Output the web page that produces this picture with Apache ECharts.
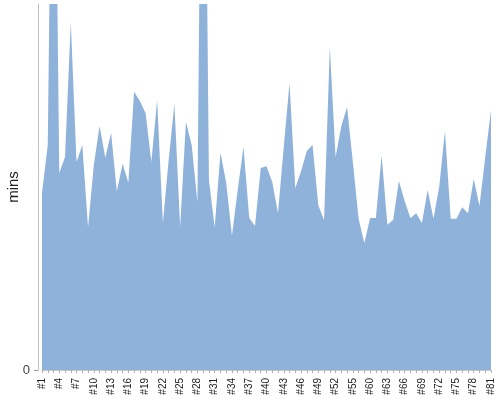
<!DOCTYPE html>
<html>
<head>
<meta charset="utf-8">
<script src="https://cdn.jsdelivr.net/npm/echarts@6/dist/echarts.min.js"></script>
<style>
html,body{margin:0;padding:0;background:#fff;}
#chart{width:500px;height:400px;}
</style>
</head>
<body>
<div id="chart"></div>
<script>
var categories = ['#1','#2','#3','#4','#5','#6','#7','#8','#9','#10','#11','#12','#13','#14','#15','#16','#17','#18','#19','#20',
  '#21','#22','#23','#24','#25','#26','#27','#28','#29','#30','#31','#32','#33','#34','#35','#36','#37','#38','#39','#40',
  '#41','#42','#43','#44','#45','#46','#47','#48','#49','#50','#51','#52','#53','#54','#55','#56','#58','#60','#61','#62',
  '#63','#64','#65','#66','#67','#68','#69','#70','#71','#72','#73','#74','#75','#76','#77','#78','#79','#80','#81'];
var minsValues = [29.0,36.9,118.0,32.3,34.9,57.0,34.1,36.9,23.4,33.6,40.0,34.8,38.9,29.3,33.8,30.7,45.6,44.1,42.1,34.1,
  44.3,24.1,34.4,43.6,23.4,40.7,36.9,27.5,129.7,31.1,23.4,35.6,30.7,22.0,29.5,36.6,24.9,23.6,33.1,33.4,
  30.8,25.7,36.6,47.0,29.8,32.6,35.9,36.9,27.0,24.6,53.0,34.9,40.0,43.1,34.1,24.8,20.8,24.9,24.9,35.2,
  23.8,24.6,31.0,27.7,24.9,25.7,24.1,29.5,24.8,30.0,39.2,24.8,24.8,26.7,25.7,31.3,26.9,34.9,42.6];
var yTickValues = [0];
var yMax = 60;

var chart = echarts.init(document.getElementById('chart'), null, {renderer: 'canvas'});
chart.setOption({
  animation: false,
  textStyle: {fontFamily: 'Liberation Sans, Arial, sans-serif'},
  grid: {left: 42, right: 9, top: 4, bottom: 30, containLabel: false, outerBoundsMode: 'none'},
  xAxis: {
    type: 'category',
    data: categories,
    boundaryGap: false,
    offset: 3,
    axisLine: {show: true, lineStyle: {color: '#c8c8c8', width: 1}},
    axisTick: {show: true, interval: 0, length: 3, lineStyle: {color: '#b0b0b0'}},
    axisLabel: {interval: 2, rotate: 90, fontSize: 10, color: '#222', margin: 5, fontFamily: 'Liberation Sans, Arial, sans-serif'},
    splitLine: {show: false}
  },
  yAxis: {
    type: 'value',
    min: 0,
    max: yMax,
    offset: 4,
    name: 'mins',
    nameLocation: 'middle',
    nameRotate: 90,
    nameGap: 17,
    nameMoveOverlap: false,
    nameTextStyle: {fontSize: 15, color: '#222', fontFamily: 'Liberation Sans, Arial, sans-serif'},
    axisLine: {show: true, lineStyle: {color: '#c0c0c0', width: 1}},
    axisTick: {show: true, length: 4, customValues: yTickValues, lineStyle: {color: '#999'}},
    axisLabel: {customValues: yTickValues, fontSize: 13, color: '#444', margin: 8, fontFamily: 'Liberation Sans, Arial, sans-serif'},
    splitLine: {show: false}
  },
  series: [{
    type: 'line',
    data: minsValues,
    showSymbol: false,
    symbol: 'none',
    clip: true,
    lineStyle: {width: 0, opacity: 0},
    areaStyle: {color: '#8fb2db', opacity: 1},
    itemStyle: {color: '#8fb2db'}
  }]
});
</script>
</body>
</html>
